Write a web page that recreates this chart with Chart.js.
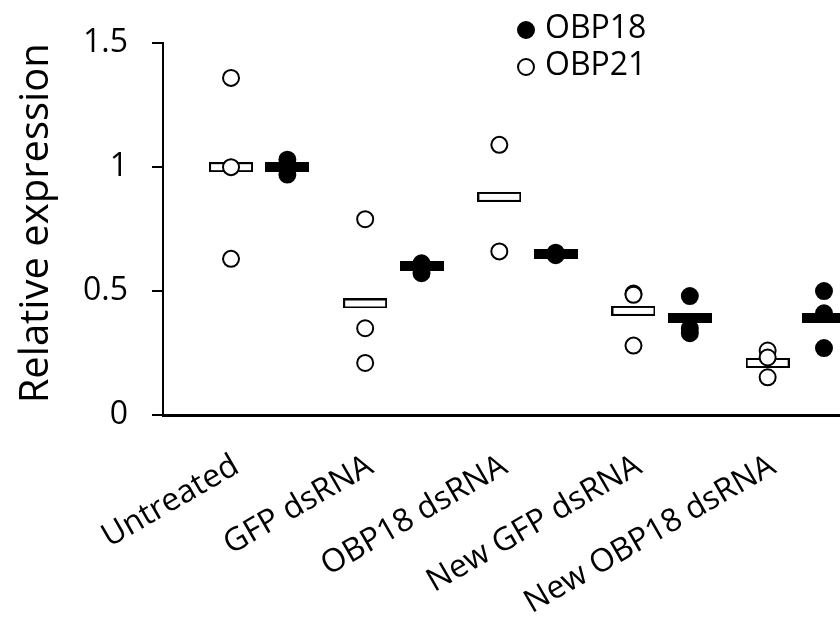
<!DOCTYPE html>
<html>
<head>
<meta charset="utf-8">
<script src="https://cdn.jsdelivr.net/npm/chart.js@4"></script>
<style>
  html, body { margin: 0; padding: 0; background: #fff; overflow: hidden; }
  #wrap { position: relative; width: 840px; height: 625px; overflow: hidden; }
  #chart { position: absolute; left: 0; top: 0; }
  .legend { position: absolute; left: 517px; font-family: "Open Sans", sans-serif; font-size: 32px; color: #000; line-height: 36px; }
  .legend span.dot { display: inline-block; width: 14px; height: 14px; border-radius: 50%; border: 2px solid #000; margin-right: 10px; vertical-align: -1px; }
</style>
</head>
<body>
<div id="wrap">
  <canvas id="chart" width="900" height="625"></canvas>
  <div class="legend" style="top:8px"><span class="dot" style="background:#000"></span>OBP18</div>
  <div class="legend" style="top:45px"><span class="dot" style="background:#fff"></span>OBP21</div>
</div>
<script>
// groups and values
const groups = ['Untreated', 'GFP dsRNA', 'OBP18 dsRNA', 'New GFP dsRNA', 'New OBP18 dsRNA'];
const obp21 = [[1.36, 1.0, 0.63], [0.79, 0.35, 0.21], [1.09, 0.66], [0.49, 0.485, 0.28], [0.26, 0.232, 0.152]];
const obp18 = [[1.03, 0.97, 1.0], [0.612, 0.572, 0.60], [0.655, 0.65, 0.645], [0.48, 0.35, 0.33], [0.50, 0.41, 0.27]];
const obp21Mean = [1.0, 0.45, 0.88, 0.42, 0.21];
const obp18Mean = [1.0, 0.60, 0.65, 0.39, 0.39];
const yTicks = [0, 0.5, 1, 1.5];

// OBP21 sits on the group value, OBP18 a bit to its right
const obp18Shift = 0.42;
const labelShift = 0.04;

function barMarker(fill) {
    const c = document.createElement('canvas');
    c.width = 44; c.height = 10;
    const g = c.getContext('2d');
    if (fill) {
        g.fillStyle = '#000';
        g.fillRect(0, 0, 44, 10);
    } else {
        g.fillStyle = '#fff';
        g.fillRect(0, 0, 44, 10);
        g.strokeStyle = '#000';
        g.lineWidth = 2;
        g.strokeRect(1, 1, 42, 8);
    }
    return c;
}

const pts21 = obp21.flatMap((vals, i) => vals.map(v => ({x: i + 1, y: v})));
const pts18 = obp18.flatMap((vals, i) => vals.map(v => ({x: i + 1 + obp18Shift, y: v})));
const mean21 = obp21Mean.map((v, i) => ({x: i + 1, y: v}));
const mean18 = obp18Mean.map((v, i) => ({x: i + 1 + obp18Shift, y: v}));

const font = 'Open Sans';

new Chart(document.getElementById('chart').getContext('2d'), {
    type: 'scatter',
    data: {
        datasets: [
            {label: 'OBP21', data: pts21, pointRadius: 8, pointBorderWidth: 2,
             pointBackgroundColor: '#fff', pointBorderColor: '#000'},
            {label: 'OBP18', data: pts18, pointRadius: 8, pointBorderWidth: 2,
             pointBackgroundColor: '#000', pointBorderColor: '#000'},
            {label: 'OBP21 mean', data: mean21, pointStyle: barMarker(false)},
            {label: 'OBP18 mean', data: mean18, pointStyle: barMarker(true)}
        ]
    },
    options: {
        responsive: false,
        animation: false,
        layout: {padding: {top: 40, right: 0, left: 0, bottom: 0}},
        plugins: {
            legend: {display: false},
            tooltip: {enabled: false}
        },
        scales: {
            x: {
                type: 'linear',
                min: 0.493,
                max: 5.912,
                afterBuildTicks: axis => { axis.ticks = groups.map((g, i) => ({value: i + 1 + labelShift})); },
                afterFit: axis => { axis.height = 625 - 415; },
                grid: {display: false},
                border: {display: true, color: '#000', width: 3},
                ticks: {
                    autoSkip: false,
                    minRotation: 30,
                    maxRotation: 30,
                    padding: 24,
                    color: '#000',
                    font: {family: font, size: 32},
                    callback: (value, index) => groups[index]
                }
            },
            y: {
                min: 0,
                max: 1.5,
                afterBuildTicks: axis => { axis.ticks = yTicks.map(v => ({value: v})); },
                afterFit: axis => { axis.width = 163; },
                grid: {drawOnChartArea: false, drawTicks: true, tickLength: 11, color: '#000', lineWidth: 2},
                border: {display: true, color: '#000', width: 2},
                ticks: {
                    padding: 24,
                    color: '#000',
                    font: {family: font, size: 32},
                    callback: value => String(value)
                },
                title: {
                    display: true,
                    text: 'Relative expression',
                    align: 'end',
                    color: '#000',
                    padding: {top: 13, bottom: 0},
                    font: {family: font, size: 40}
                }
            }
        }
    }
});
</script>
</body>
</html>
